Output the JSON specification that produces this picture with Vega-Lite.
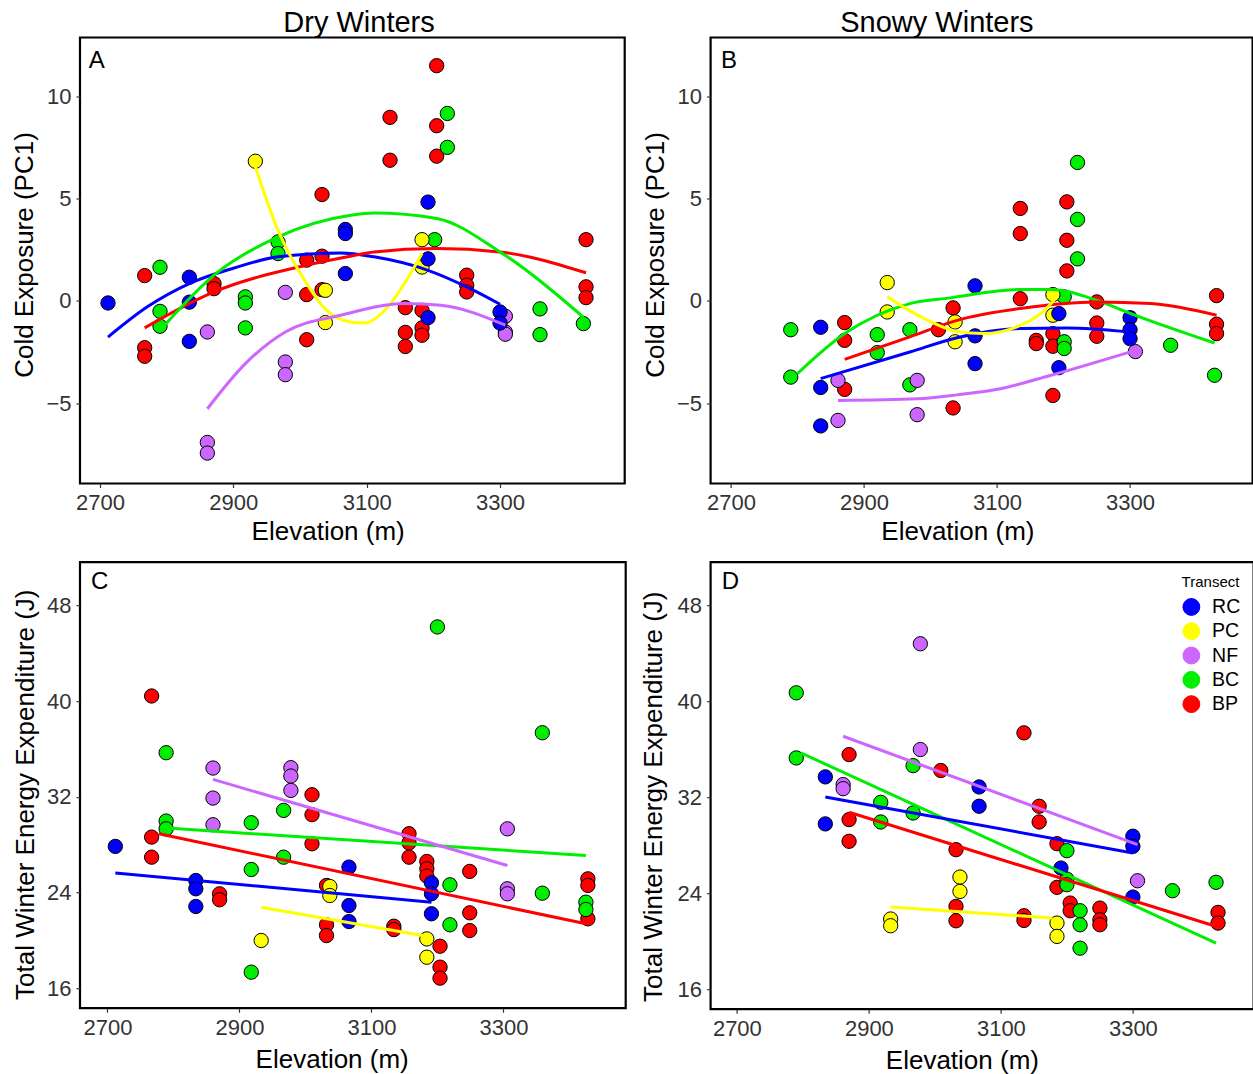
{
"$schema": "https://vega.github.io/schema/vega-lite/v6.json",
"background": "white",
"padding": {"left": 10, "top": 7.5, "right": 0, "bottom": 0},
"config": {
 "font": "Liberation Sans",
 "view": {"stroke": "black", "strokeWidth": 2.2},
 "axis": {"grid": false, "domain": false, "tickSize": 4, "tickColor": "#333333", "tickWidth": 1.2, "labelFontSize": 22, "labelColor": "#333333", "labelPadding": 5, "titleFontSize": 26, "titleFontWeight": "normal", "titleColor": "black"},
 "title": {"fontSize": 29, "fontWeight": "normal", "offset": -0.7, "frame": "group", "anchor": "middle", "color": "black"}
},
"datasets": {
 "points": [
{"panel":"A","transect":"BP","elevation":2767,"value":1.24},{"panel":"A","transect":"BP","elevation":2767,"value":-2.29},{"panel":"A","transect":"BP","elevation":2767,"value":-2.71},{"panel":"A","transect":"BP","elevation":2871,"value":0.85},{"panel":"A","transect":"BP","elevation":2871,"value":0.6},{"panel":"A","transect":"BP","elevation":3010,"value":2.0},{"panel":"A","transect":"BP","elevation":3010,"value":0.31},{"panel":"A","transect":"BP","elevation":3010,"value":-1.9},{"panel":"A","transect":"BP","elevation":3033,"value":5.21},{"panel":"A","transect":"BP","elevation":3033,"value":2.19},{"panel":"A","transect":"BP","elevation":3033,"value":0.55},{"panel":"A","transect":"BP","elevation":3205,"value":11.52},{"panel":"A","transect":"BP","elevation":3135,"value":8.99},{"panel":"A","transect":"BP","elevation":3205,"value":8.58},{"panel":"A","transect":"BP","elevation":3135,"value":6.89},{"panel":"A","transect":"BP","elevation":3205,"value":7.09},{"panel":"A","transect":"BP","elevation":3158,"value":-0.33},{"panel":"A","transect":"BP","elevation":3158,"value":-1.54},{"panel":"A","transect":"BP","elevation":3158,"value":-2.23},{"panel":"A","transect":"BP","elevation":3183,"value":-0.46},{"panel":"A","transect":"BP","elevation":3183,"value":-1.32},{"panel":"A","transect":"BP","elevation":3183,"value":-1.68},{"panel":"A","transect":"BP","elevation":3250,"value":1.26},{"panel":"A","transect":"BP","elevation":3250,"value":0.77},{"panel":"A","transect":"BP","elevation":3250,"value":0.44},{"panel":"A","transect":"BP","elevation":3429,"value":3.0},{"panel":"A","transect":"BP","elevation":3429,"value":0.69},{"panel":"A","transect":"BP","elevation":3429,"value":0.16},
{"panel":"A","transect":"BC","elevation":2790,"value":1.65},{"panel":"A","transect":"BC","elevation":2790,"value":-0.51},{"panel":"A","transect":"BC","elevation":2790,"value":-1.24},{"panel":"A","transect":"BC","elevation":2918,"value":0.2},{"panel":"A","transect":"BC","elevation":2918,"value":-0.1},{"panel":"A","transect":"BC","elevation":2918,"value":-1.32},{"panel":"A","transect":"BC","elevation":2967,"value":2.89},{"panel":"A","transect":"BC","elevation":2967,"value":2.32},{"panel":"A","transect":"BC","elevation":3221,"value":9.18},{"panel":"A","transect":"BC","elevation":3221,"value":7.52},{"panel":"A","transect":"BC","elevation":3202,"value":3.0},{"panel":"A","transect":"BC","elevation":3360,"value":-0.39},{"panel":"A","transect":"BC","elevation":3360,"value":-1.65},{"panel":"A","transect":"BC","elevation":3425,"value":-1.11},
{"panel":"A","transect":"NF","elevation":2861,"value":-1.52},{"panel":"A","transect":"NF","elevation":2861,"value":-6.93},{"panel":"A","transect":"NF","elevation":2861,"value":-7.45},{"panel":"A","transect":"NF","elevation":2978,"value":0.42},{"panel":"A","transect":"NF","elevation":2978,"value":-2.99},{"panel":"A","transect":"NF","elevation":2978,"value":-3.61},{"panel":"A","transect":"NF","elevation":3308,"value":-0.75},{"panel":"A","transect":"NF","elevation":3308,"value":-1.52},{"panel":"A","transect":"NF","elevation":3308,"value":-1.63},
{"panel":"A","transect":"PC","elevation":2933,"value":6.84},{"panel":"A","transect":"PC","elevation":3038,"value":0.52},{"panel":"A","transect":"PC","elevation":3038,"value":-1.06},{"panel":"A","transect":"PC","elevation":3183,"value":3.0},{"panel":"A","transect":"PC","elevation":3183,"value":1.66},
{"panel":"A","transect":"RC","elevation":2712,"value":-0.1},{"panel":"A","transect":"RC","elevation":2834,"value":1.16},{"panel":"A","transect":"RC","elevation":2834,"value":-0.06},{"panel":"A","transect":"RC","elevation":2834,"value":-1.98},{"panel":"A","transect":"RC","elevation":3068,"value":3.5},{"panel":"A","transect":"RC","elevation":3068,"value":3.3},{"panel":"A","transect":"RC","elevation":3068,"value":1.34},{"panel":"A","transect":"RC","elevation":3192,"value":4.84},{"panel":"A","transect":"RC","elevation":3192,"value":2.06},{"panel":"A","transect":"RC","elevation":3192,"value":-0.82},{"panel":"A","transect":"RC","elevation":3300,"value":-0.54},{"panel":"A","transect":"RC","elevation":3300,"value":-1.08},
{"panel":"B","transect":"BP","elevation":2871,"value":-1.06},{"panel":"B","transect":"BP","elevation":2871,"value":-1.93},{"panel":"B","transect":"BP","elevation":2871,"value":-4.33},{"panel":"B","transect":"BP","elevation":3034,"value":-0.34},{"panel":"B","transect":"BP","elevation":3012,"value":-1.41},{"panel":"B","transect":"BP","elevation":3034,"value":-5.24},{"panel":"B","transect":"BP","elevation":3135,"value":4.53},{"panel":"B","transect":"BP","elevation":3135,"value":3.3},{"panel":"B","transect":"BP","elevation":3135,"value":0.11},{"panel":"B","transect":"BP","elevation":3205,"value":4.85},{"panel":"B","transect":"BP","elevation":3205,"value":2.97},{"panel":"B","transect":"BP","elevation":3205,"value":1.47},{"panel":"B","transect":"BP","elevation":3250,"value":-0.05},{"panel":"B","transect":"BP","elevation":3250,"value":-1.08},{"panel":"B","transect":"BP","elevation":3250,"value":-1.73},{"panel":"B","transect":"BP","elevation":3159,"value":-1.93},{"panel":"B","transect":"BP","elevation":3159,"value":-2.09},{"panel":"B","transect":"BP","elevation":3184,"value":-1.6},{"panel":"B","transect":"BP","elevation":3184,"value":-2.22},{"panel":"B","transect":"BP","elevation":3184,"value":-4.63},{"panel":"B","transect":"BP","elevation":3430,"value":0.26},{"panel":"B","transect":"BP","elevation":3430,"value":-1.14},{"panel":"B","transect":"BP","elevation":3430,"value":-1.6},
{"panel":"B","transect":"BC","elevation":2790,"value":-1.41},{"panel":"B","transect":"BC","elevation":2790,"value":-3.73},{"panel":"B","transect":"BC","elevation":2920,"value":-1.65},{"panel":"B","transect":"BC","elevation":2920,"value":-2.53},{"panel":"B","transect":"BC","elevation":2969,"value":-1.41},{"panel":"B","transect":"BC","elevation":2969,"value":-4.11},{"panel":"B","transect":"BC","elevation":3221,"value":6.78},{"panel":"B","transect":"BC","elevation":3221,"value":3.99},{"panel":"B","transect":"BC","elevation":3221,"value":2.06},{"panel":"B","transect":"BC","elevation":3201,"value":0.2},{"panel":"B","transect":"BC","elevation":3201,"value":-2.0},{"panel":"B","transect":"BC","elevation":3201,"value":-2.33},{"panel":"B","transect":"BC","elevation":3361,"value":-2.17},{"panel":"B","transect":"BC","elevation":3427,"value":-3.64},
{"panel":"B","transect":"NF","elevation":2861,"value":-3.89},{"panel":"B","transect":"NF","elevation":2861,"value":-5.85},{"panel":"B","transect":"NF","elevation":2980,"value":-3.89},{"panel":"B","transect":"NF","elevation":2980,"value":-5.57},{"panel":"B","transect":"NF","elevation":3308,"value":-2.48},
{"panel":"B","transect":"PC","elevation":2935,"value":0.9},{"panel":"B","transect":"PC","elevation":2935,"value":-0.54},{"panel":"B","transect":"PC","elevation":3037,"value":-1.03},{"panel":"B","transect":"PC","elevation":3037,"value":-2.0},{"panel":"B","transect":"PC","elevation":3184,"value":0.31},{"panel":"B","transect":"PC","elevation":3184,"value":-0.7},
{"panel":"B","transect":"RC","elevation":2835,"value":-1.29},{"panel":"B","transect":"RC","elevation":2835,"value":-4.24},{"panel":"B","transect":"RC","elevation":2835,"value":-6.12},{"panel":"B","transect":"RC","elevation":3067,"value":0.74},{"panel":"B","transect":"RC","elevation":3067,"value":-1.71},{"panel":"B","transect":"RC","elevation":3067,"value":-3.07},{"panel":"B","transect":"RC","elevation":3193,"value":-0.62},{"panel":"B","transect":"RC","elevation":3193,"value":-3.27},{"panel":"B","transect":"RC","elevation":3300,"value":-0.82},{"panel":"B","transect":"RC","elevation":3300,"value":-1.41},{"panel":"B","transect":"RC","elevation":3300,"value":-1.85},
{"panel":"C","transect":"BP","elevation":2767,"value":40.42},{"panel":"C","transect":"BP","elevation":2767,"value":28.63},{"panel":"C","transect":"BP","elevation":2767,"value":26.95},{"panel":"C","transect":"BP","elevation":2870,"value":23.89},{"panel":"C","transect":"BP","elevation":2870,"value":23.39},{"panel":"C","transect":"BP","elevation":3010,"value":32.17},{"panel":"C","transect":"BP","elevation":3010,"value":30.5},{"panel":"C","transect":"BP","elevation":3010,"value":28.07},{"panel":"C","transect":"BP","elevation":3032,"value":24.59},{"panel":"C","transect":"BP","elevation":3032,"value":21.3},{"panel":"C","transect":"BP","elevation":3032,"value":20.4},{"panel":"C","transect":"BP","elevation":3157,"value":28.91},{"panel":"C","transect":"BP","elevation":3157,"value":28.15},{"panel":"C","transect":"BP","elevation":3157,"value":26.95},{"panel":"C","transect":"BP","elevation":3184,"value":26.59},{"panel":"C","transect":"BP","elevation":3184,"value":25.98},{"panel":"C","transect":"BP","elevation":3184,"value":25.37},{"panel":"C","transect":"BP","elevation":3204,"value":19.51},{"panel":"C","transect":"BP","elevation":3204,"value":17.76},{"panel":"C","transect":"BP","elevation":3204,"value":16.84},{"panel":"C","transect":"BP","elevation":3249,"value":25.76},{"panel":"C","transect":"BP","elevation":3249,"value":22.3},{"panel":"C","transect":"BP","elevation":3249,"value":20.82},{"panel":"C","transect":"BP","elevation":3134,"value":21.18},{"panel":"C","transect":"BP","elevation":3134,"value":20.9},{"panel":"C","transect":"BP","elevation":3428,"value":25.14},{"panel":"C","transect":"BP","elevation":3428,"value":24.59},{"panel":"C","transect":"BP","elevation":3428,"value":21.8},
{"panel":"C","transect":"BC","elevation":2789,"value":35.68},{"panel":"C","transect":"BC","elevation":2789,"value":29.97},{"panel":"C","transect":"BC","elevation":2789,"value":29.32},{"panel":"C","transect":"BC","elevation":2918,"value":29.83},{"panel":"C","transect":"BC","elevation":2918,"value":25.92},{"panel":"C","transect":"BC","elevation":2918,"value":17.34},{"panel":"C","transect":"BC","elevation":2967,"value":30.86},{"panel":"C","transect":"BC","elevation":2967,"value":26.95},{"panel":"C","transect":"BC","elevation":3200,"value":46.19},{"panel":"C","transect":"BC","elevation":3359,"value":37.35},{"panel":"C","transect":"BC","elevation":3219,"value":24.64},{"panel":"C","transect":"BC","elevation":3219,"value":21.3},{"panel":"C","transect":"BC","elevation":3359,"value":23.94},{"panel":"C","transect":"BC","elevation":3425,"value":23.19},{"panel":"C","transect":"BC","elevation":3425,"value":22.58},
{"panel":"C","transect":"NF","elevation":2860,"value":34.4},{"panel":"C","transect":"NF","elevation":2860,"value":31.89},{"panel":"C","transect":"NF","elevation":2860,"value":29.66},{"panel":"C","transect":"NF","elevation":2978,"value":34.43},{"panel":"C","transect":"NF","elevation":2978,"value":33.73},{"panel":"C","transect":"NF","elevation":2978,"value":32.53},{"panel":"C","transect":"NF","elevation":3306,"value":29.32},{"panel":"C","transect":"NF","elevation":3306,"value":24.31},{"panel":"C","transect":"NF","elevation":3306,"value":23.89},
{"panel":"C","transect":"PC","elevation":2933,"value":19.99},{"panel":"C","transect":"PC","elevation":3037,"value":24.5},{"panel":"C","transect":"PC","elevation":3037,"value":23.75},{"panel":"C","transect":"PC","elevation":3184,"value":20.12},{"panel":"C","transect":"PC","elevation":3184,"value":18.59},
{"panel":"C","transect":"RC","elevation":2712,"value":27.85},{"panel":"C","transect":"RC","elevation":2834,"value":25.0},{"panel":"C","transect":"RC","elevation":2834,"value":24.31},{"panel":"C","transect":"RC","elevation":2834,"value":22.83},{"panel":"C","transect":"RC","elevation":3066,"value":26.12},{"panel":"C","transect":"RC","elevation":3066,"value":22.91},{"panel":"C","transect":"RC","elevation":3066,"value":21.57},{"panel":"C","transect":"RC","elevation":3191,"value":24.81},{"panel":"C","transect":"RC","elevation":3191,"value":23.89},{"panel":"C","transect":"RC","elevation":3191,"value":22.22},
{"panel":"D","transect":"BP","elevation":2870,"value":35.56},{"panel":"D","transect":"BP","elevation":2870,"value":30.14},{"panel":"D","transect":"BP","elevation":2870,"value":28.33},{"panel":"D","transect":"BP","elevation":3009,"value":34.23},{"panel":"D","transect":"BP","elevation":3032,"value":27.63},{"panel":"D","transect":"BP","elevation":3032,"value":22.9},{"panel":"D","transect":"BP","elevation":3032,"value":21.7},{"panel":"D","transect":"BP","elevation":3135,"value":37.37},{"panel":"D","transect":"BP","elevation":3158,"value":31.25},{"panel":"D","transect":"BP","elevation":3158,"value":29.94},{"panel":"D","transect":"BP","elevation":3185,"value":28.13},{"panel":"D","transect":"BP","elevation":3185,"value":24.49},{"panel":"D","transect":"BP","elevation":3205,"value":23.18},{"panel":"D","transect":"BP","elevation":3205,"value":22.54},{"panel":"D","transect":"BP","elevation":3135,"value":22.12},{"panel":"D","transect":"BP","elevation":3135,"value":21.73},{"panel":"D","transect":"BP","elevation":3250,"value":22.76},{"panel":"D","transect":"BP","elevation":3250,"value":21.79},{"panel":"D","transect":"BP","elevation":3250,"value":21.37},{"panel":"D","transect":"BP","elevation":3429,"value":22.4},{"panel":"D","transect":"BP","elevation":3429,"value":21.51},
{"panel":"D","transect":"BC","elevation":2790,"value":40.71},{"panel":"D","transect":"BC","elevation":2790,"value":35.28},{"panel":"D","transect":"BC","elevation":2918,"value":31.58},{"panel":"D","transect":"BC","elevation":2918,"value":29.94},{"panel":"D","transect":"BC","elevation":2967,"value":34.64},{"panel":"D","transect":"BC","elevation":2967,"value":30.69},{"panel":"D","transect":"BC","elevation":3200,"value":27.55},{"panel":"D","transect":"BC","elevation":3200,"value":25.18},{"panel":"D","transect":"BC","elevation":3200,"value":24.71},{"panel":"D","transect":"BC","elevation":3220,"value":22.54},{"panel":"D","transect":"BC","elevation":3220,"value":21.37},{"panel":"D","transect":"BC","elevation":3220,"value":19.42},{"panel":"D","transect":"BC","elevation":3360,"value":24.21},{"panel":"D","transect":"BC","elevation":3426,"value":24.91},
{"panel":"D","transect":"NF","elevation":2861,"value":33.06},{"panel":"D","transect":"NF","elevation":2861,"value":32.72},{"panel":"D","transect":"NF","elevation":2978,"value":44.8},{"panel":"D","transect":"NF","elevation":2978,"value":35.98},{"panel":"D","transect":"NF","elevation":3307,"value":25.04},
{"panel":"D","transect":"PC","elevation":2933,"value":21.85},{"panel":"D","transect":"PC","elevation":2933,"value":21.29},{"panel":"D","transect":"PC","elevation":3038,"value":25.35},{"panel":"D","transect":"PC","elevation":3038,"value":24.15},{"panel":"D","transect":"PC","elevation":3185,"value":21.51},{"panel":"D","transect":"PC","elevation":3185,"value":20.4},
{"panel":"D","transect":"RC","elevation":2834,"value":33.7},{"panel":"D","transect":"RC","elevation":2834,"value":29.78},{"panel":"D","transect":"RC","elevation":3067,"value":32.86},{"panel":"D","transect":"RC","elevation":3067,"value":31.25},{"panel":"D","transect":"RC","elevation":3191,"value":26.1},{"panel":"D","transect":"RC","elevation":3300,"value":28.75},{"panel":"D","transect":"RC","elevation":3300,"value":27.91},{"panel":"D","transect":"RC","elevation":3300,"value":23.68}
 ],
 "fits": [
{"panel":"A","transect":"RC","elevation":2712,"value":-1.77},{"panel":"A","transect":"RC","elevation":2771,"value":-0.29},{"panel":"A","transect":"RC","elevation":2834,"value":0.85},{"panel":"A","transect":"RC","elevation":2900,"value":1.6},{"panel":"A","transect":"RC","elevation":2967,"value":2.16},{"panel":"A","transect":"RC","elevation":3061,"value":2.35},{"panel":"A","transect":"RC","elevation":3111,"value":2.16},{"panel":"A","transect":"RC","elevation":3192,"value":1.5},{"panel":"A","transect":"RC","elevation":3250,"value":0.69},{"panel":"A","transect":"RC","elevation":3300,"value":-0.16},
{"panel":"A","transect":"BP","elevation":2767,"value":-1.32},{"panel":"A","transect":"BP","elevation":2871,"value":0.44},{"panel":"A","transect":"BP","elevation":3010,"value":1.75},{"panel":"A","transect":"BP","elevation":3076,"value":2.19},{"panel":"A","transect":"BP","elevation":3111,"value":2.4},{"panel":"A","transect":"BP","elevation":3205,"value":2.57},{"panel":"A","transect":"BP","elevation":3300,"value":2.4},{"panel":"A","transect":"BP","elevation":3429,"value":1.38},
{"panel":"A","transect":"BC","elevation":2797,"value":-1.19},{"panel":"A","transect":"BC","elevation":2871,"value":1.26},{"panel":"A","transect":"BC","elevation":2967,"value":3.14},{"panel":"A","transect":"BC","elevation":3076,"value":4.2},{"panel":"A","transect":"BC","elevation":3111,"value":4.31},{"panel":"A","transect":"BC","elevation":3205,"value":4.04},{"panel":"A","transect":"BC","elevation":3300,"value":2.4},{"panel":"A","transect":"BC","elevation":3425,"value":-0.79},
{"panel":"A","transect":"PC","elevation":2933,"value":6.57},{"panel":"A","transect":"PC","elevation":2967,"value":3.46},{"panel":"A","transect":"PC","elevation":3010,"value":0.85},{"panel":"A","transect":"PC","elevation":3038,"value":-0.4},{"panel":"A","transect":"PC","elevation":3076,"value":-1.03},{"panel":"A","transect":"PC","elevation":3096,"value":-1.08},{"panel":"A","transect":"PC","elevation":3136,"value":-0.13},{"panel":"A","transect":"PC","elevation":3158,"value":0.93},{"panel":"A","transect":"PC","elevation":3183,"value":2.32},
{"panel":"A","transect":"NF","elevation":2861,"value":-5.28},{"panel":"A","transect":"NF","elevation":2918,"value":-3.07},{"panel":"A","transect":"NF","elevation":2978,"value":-1.52},{"panel":"A","transect":"NF","elevation":3061,"value":-0.7},{"panel":"A","transect":"NF","elevation":3158,"value":-0.13},{"panel":"A","transect":"NF","elevation":3211,"value":-0.21},{"panel":"A","transect":"NF","elevation":3308,"value":-1.19},
{"panel":"B","transect":"BC","elevation":2800,"value":-3.56},{"panel":"B","transect":"BC","elevation":2871,"value":-1.6},{"panel":"B","transect":"BC","elevation":2969,"value":-0.13},{"panel":"B","transect":"BC","elevation":3030,"value":0.15},{"panel":"B","transect":"BC","elevation":3135,"value":0.56},{"panel":"B","transect":"BC","elevation":3180,"value":0.56},{"panel":"B","transect":"BC","elevation":3250,"value":0.03},{"panel":"B","transect":"BC","elevation":3301,"value":-0.62},{"panel":"B","transect":"BC","elevation":3427,"value":-2.06},
{"panel":"B","transect":"BP","elevation":2871,"value":-2.86},{"panel":"B","transect":"BP","elevation":2969,"value":-1.76},{"panel":"B","transect":"BP","elevation":3040,"value":-0.95},{"panel":"B","transect":"BP","elevation":3135,"value":-0.37},{"panel":"B","transect":"BP","elevation":3250,"value":-0.05},{"panel":"B","transect":"BP","elevation":3331,"value":-0.13},{"panel":"B","transect":"BP","elevation":3430,"value":-0.7},
{"panel":"B","transect":"RC","elevation":2835,"value":-3.8},{"panel":"B","transect":"RC","elevation":2969,"value":-2.5},{"panel":"B","transect":"RC","elevation":3040,"value":-1.8},{"panel":"B","transect":"RC","elevation":3135,"value":-1.35},{"panel":"B","transect":"RC","elevation":3205,"value":-1.32},{"panel":"B","transect":"RC","elevation":3300,"value":-1.52},
{"panel":"B","transect":"NF","elevation":2861,"value":-4.87},{"panel":"B","transect":"NF","elevation":2980,"value":-4.79},{"panel":"B","transect":"NF","elevation":3040,"value":-4.6},{"panel":"B","transect":"NF","elevation":3105,"value":-4.3},{"panel":"B","transect":"NF","elevation":3180,"value":-3.65},{"panel":"B","transect":"NF","elevation":3308,"value":-2.42},
{"panel":"B","transect":"PC","elevation":2935,"value":0.2},{"panel":"B","transect":"PC","elevation":2996,"value":-0.95},{"panel":"B","transect":"PC","elevation":3040,"value":-1.5},{"panel":"B","transect":"PC","elevation":3080,"value":-1.6},{"panel":"B","transect":"PC","elevation":3130,"value":-1.27},{"panel":"B","transect":"PC","elevation":3170,"value":-0.5},{"panel":"B","transect":"PC","elevation":3186,"value":0.05},
{"panel":"C","transect":"RC","elevation":2712,"value":25.62},{"panel":"C","transect":"RC","elevation":3191,"value":23.19},
{"panel":"C","transect":"BP","elevation":2778,"value":28.91},{"panel":"C","transect":"BP","elevation":3425,"value":21.38},
{"panel":"C","transect":"BC","elevation":2791,"value":29.38},{"panel":"C","transect":"BC","elevation":3425,"value":27.09},
{"panel":"C","transect":"NF","elevation":2860,"value":33.45},{"panel":"C","transect":"NF","elevation":3306,"value":26.26},
{"panel":"C","transect":"PC","elevation":2933,"value":22.77},{"panel":"C","transect":"PC","elevation":3177,"value":20.4},
{"panel":"D","transect":"NF","elevation":2861,"value":37.09},{"panel":"D","transect":"NF","elevation":3307,"value":28.05},
{"panel":"D","transect":"BC","elevation":2797,"value":35.7},{"panel":"D","transect":"BC","elevation":3426,"value":19.84},
{"panel":"D","transect":"RC","elevation":2834,"value":32.03},{"panel":"D","transect":"RC","elevation":3300,"value":27.35},
{"panel":"D","transect":"BP","elevation":2870,"value":30.75},{"panel":"D","transect":"BP","elevation":3429,"value":21.18},
{"panel":"D","transect":"PC","elevation":2933,"value":22.85},{"panel":"D","transect":"PC","elevation":3178,"value":21.93}
 ]
},
"resolve": {"scale": {"color": "independent"}, "legend": {"color": "independent"}},
"columns": 2,
"spacing": {"row": 13.7, "column": 11.6},
"concat": [
  {"width": 544.7, "height": 446,
   "title": {"text": "Dry Winters", "dx": 6.7},
   "layer": [
    {"data": {"name": "points"}, "transform": [{"filter": "datum.panel === 'A'"}],
     "mark": {"type": "circle", "size": 205, "opacity": 1, "stroke": "black", "strokeWidth": 1},
     "encoding": {
      "x": {"field": "elevation", "type": "quantitative", "scale": {"domain": [2670, 3487], "nice": false, "zero": false}, "axis": {"values": [2700, 2900, 3100, 3300], "format": "d", "title": "Elevation (m)", "titlePadding": 5, "titleX": 247.7}},
      "y": {"field": "value", "type": "quantitative", "scale": {"domain": [-8.94, 12.9], "nice": false, "zero": false}, "axis": {"values": [-5, 0, 5, 10], "format": "d", "title": "Cold Exposure (PC1)", "titlePadding": 8.3, "titleY": 217}},
      "color": {"field": "transect", "type": "nominal", "scale": {"domain": ["RC","PC","NF","BC","BP"], "range": ["#0000FF","#FFFF00","#CC66FF","#00EE00","#FF0000"]}, "legend": null}}},
    {"data": {"name": "fits"}, "transform": [{"filter": "datum.panel === 'A'"}],
     "mark": {"type": "line", "strokeWidth": 3, "interpolate": "monotone"},
     "encoding": {
      "x": {"field": "elevation", "type": "quantitative"},
      "y": {"field": "value", "type": "quantitative"},
      "color": {"field": "transect", "type": "nominal", "legend": null}}},
    {"data": {"values": [{}]},
     "mark": {"type": "text", "align": "left", "baseline": "alphabetic", "fontSize": 24, "fill": "black"},
     "encoding": {"x": {"datum": 2683}, "y": {"datum": 11.4}, "text": {"value": "A"}}}
   ]},
  {"width": 542, "height": 446,
   "title": {"text": "Snowy Winters", "dx": -44.7},
   "layer": [
    {"data": {"name": "points"}, "transform": [{"filter": "datum.panel === 'B'"}],
     "mark": {"type": "circle", "size": 205, "opacity": 1, "stroke": "black", "strokeWidth": 1},
     "encoding": {
      "x": {"field": "elevation", "type": "quantitative", "scale": {"domain": [2669.5, 3484.2], "nice": false, "zero": false}, "axis": {"values": [2700, 2900, 3100, 3300], "format": "d", "title": "Elevation (m)", "titlePadding": 5, "titleX": 246.8}},
      "y": {"field": "value", "type": "quantitative", "scale": {"domain": [-8.94, 12.9], "nice": false, "zero": false}, "axis": {"values": [-5, 0, 5, 10], "format": "d", "title": "Cold Exposure (PC1)", "titlePadding": 7.7, "titleY": 217}},
      "color": {"field": "transect", "type": "nominal", "scale": {"domain": ["RC","PC","NF","BC","BP"], "range": ["#0000FF","#FFFF00","#CC66FF","#00EE00","#FF0000"]}, "legend": null}}},
    {"data": {"name": "fits"}, "transform": [{"filter": "datum.panel === 'B'"}],
     "mark": {"type": "line", "strokeWidth": 3, "interpolate": "monotone"},
     "encoding": {
      "x": {"field": "elevation", "type": "quantitative"},
      "y": {"field": "value", "type": "quantitative"},
      "color": {"field": "transect", "type": "nominal", "legend": null}}},
    {"data": {"values": [{}]},
     "mark": {"type": "text", "align": "left", "baseline": "alphabetic", "fontSize": 24, "fill": "black"},
     "encoding": {"x": {"datum": 2685}, "y": {"datum": 11.4}, "text": {"value": "B"}}}
   ]},
  {"width": 545.7, "height": 446,
   "layer": [
    {"data": {"name": "points"}, "transform": [{"filter": "datum.panel === 'C'"}],
     "mark": {"type": "circle", "size": 205, "opacity": 1, "stroke": "black", "strokeWidth": 1},
     "encoding": {
      "x": {"field": "elevation", "type": "quantitative", "scale": {"domain": [2658.5, 3485.3], "nice": false, "zero": false}, "axis": {"values": [2700, 2900, 3100, 3300], "format": "d", "title": "Elevation (m)", "titlePadding": 8, "titleX": 251.7}},
      "y": {"field": "value", "type": "quantitative", "scale": {"domain": [14.33, 51.6], "nice": false, "zero": false}, "axis": {"values": [16, 24, 32, 40, 48], "format": "d", "title": "Total Winter Energy Expenditure (J)", "titlePadding": 8, "titleY": 232}},
      "color": {"field": "transect", "type": "nominal", "scale": {"domain": ["RC","PC","NF","BC","BP"], "range": ["#0000FF","#FFFF00","#CC66FF","#00EE00","#FF0000"]}, "legend": null}}},
    {"data": {"name": "fits"}, "transform": [{"filter": "datum.panel === 'C'"}],
     "mark": {"type": "line", "strokeWidth": 3},
     "encoding": {
      "x": {"field": "elevation", "type": "quantitative"},
      "y": {"field": "value", "type": "quantitative"},
      "color": {"field": "transect", "type": "nominal", "legend": null}}},
    {"data": {"values": [{}]},
     "mark": {"type": "text", "align": "left", "baseline": "alphabetic", "fontSize": 24, "fill": "black"},
     "encoding": {"x": {"datum": 2675}, "y": {"datum": 49.4}, "text": {"value": "C"}}}
   ]},
  {"width": 543, "height": 447,
   "layer": [
    {"data": {"name": "points"}, "transform": [{"filter": "datum.panel === 'D'"}],
     "mark": {"type": "circle", "size": 205, "opacity": 1, "stroke": "black", "strokeWidth": 1},
     "encoding": {
      "x": {"field": "elevation", "type": "quantitative", "scale": {"domain": [2660.2, 3482.9], "nice": false, "zero": false}, "axis": {"values": [2700, 2900, 3100, 3300], "format": "d", "title": "Elevation (m)", "titlePadding": 8, "titleX": 251.3}},
      "y": {"field": "value", "type": "quantitative", "scale": {"domain": [14.33, 51.6], "nice": false, "zero": false}, "axis": {"values": [16, 24, 32, 40, 48], "format": "d", "title": "Total Winter Energy Expenditure (J)", "titlePadding": 11, "titleY": 234}},
      "color": {"field": "transect", "type": "nominal", "scale": {"domain": ["RC","PC","NF","BC","BP"], "range": ["#0000FF","#FFFF00","#CC66FF","#00EE00","#FF0000"]},
       "legend": {"orient": "top-right", "offset": 13, "title": "Transect", "titleFontSize": 15, "titleFontWeight": "normal", "titleColor": "black", "labelFontSize": 19.5, "labelColor": "black", "symbolType": "circle", "symbolSize": 285, "symbolStrokeColor": "black", "symbolStrokeWidth": 1, "symbolOpacity": 1, "rowPadding": 2.3, "titlePadding": 7, "labelOffset": 11, "padding": 0}}}},
    {"data": {"name": "fits"}, "transform": [{"filter": "datum.panel === 'D'"}],
     "mark": {"type": "line", "strokeWidth": 3},
     "encoding": {
      "x": {"field": "elevation", "type": "quantitative"},
      "y": {"field": "value", "type": "quantitative"},
      "color": {"field": "transect", "type": "nominal", "legend": null}}},
    {"data": {"values": [{}]},
     "mark": {"type": "text", "align": "left", "baseline": "alphabetic", "fontSize": 24, "fill": "black"},
     "encoding": {"x": {"datum": 2677}, "y": {"datum": 49.4}, "text": {"value": "D"}}}
   ]}
]
}
